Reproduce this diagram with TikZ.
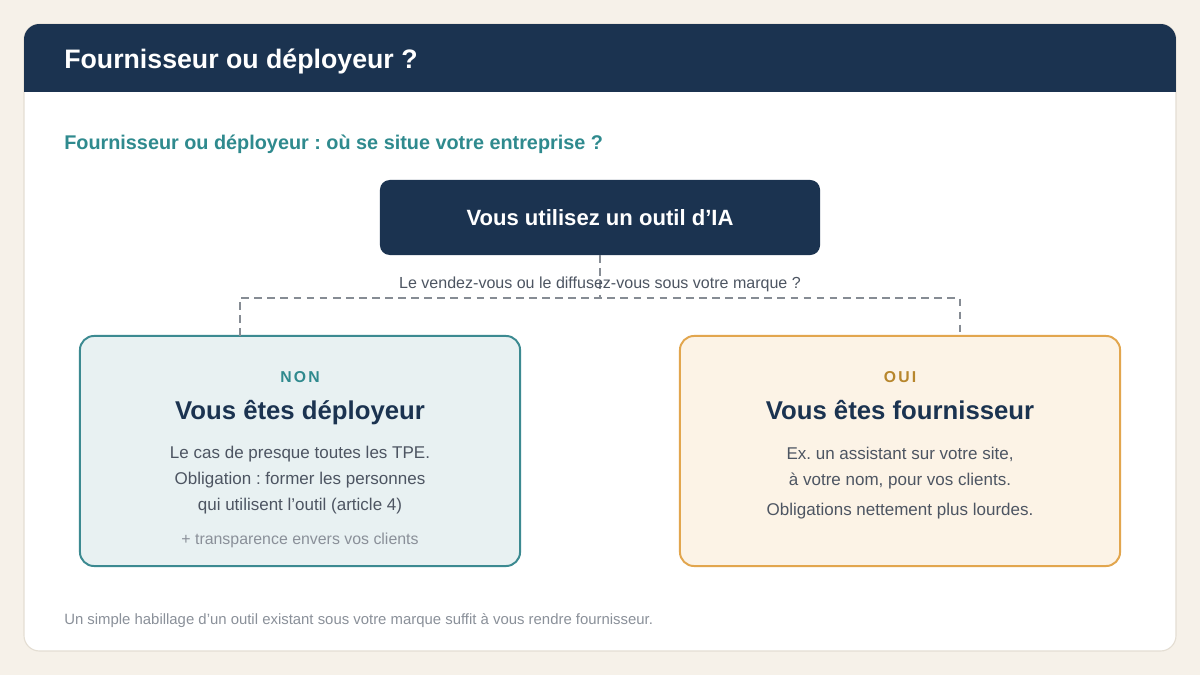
\documentclass[tikz,border=0pt]{standalone}
\usepackage{fontspec}
\setmainfont{Liberation Sans}
\usetikzlibrary{positioning}
\frenchspacing

% colours
\definecolor{pagebg}{HTML}{F6F1E9}
\definecolor{cardline}{HTML}{E4DED3}
\definecolor{navy}{HTML}{1B3350}
\definecolor{tealtxt}{HTML}{2F8A8E}
\definecolor{nonfill}{HTML}{E8F1F2}
\definecolor{nonline}{HTML}{3C8A91}
\definecolor{ouifill}{HTML}{FCF3E6}
\definecolor{ouiline}{HTML}{E2A64E}
\definecolor{ouitxt}{HTML}{B7862C}
\definecolor{bodytxt}{HTML}{4D5562}
\definecolor{softtxt}{HTML}{8A9099}
\definecolor{linkgray}{HTML}{868C94}

\tikzset{
    startbox/.style={fill=navy, rounded corners=7pt, minimum width=11cm, minimum height=1.875cm,
        text=white, font=\fontsize{15.7}{18}\selectfont\bfseries},
    answerbox/.style={rounded corners=10pt, line width=1.4pt, minimum width=11cm, minimum height=5.75cm},
    link/.style={draw=linkgray, line width=1.7pt, dash pattern=on 5.5pt off 3.8pt},
    tag/.style={anchor=base, inner sep=0pt, font=\fontsize{11.2}{13}\selectfont\bfseries\addfontfeature{LetterSpace=14}},
    headline/.style={anchor=base, inner sep=0pt, text=navy, font=\fontsize{18.3}{21}\selectfont\bfseries},
    bodyline/.style={anchor=base, inner sep=0pt, text=bodytxt, font=\fontsize{12.1}{14}\selectfont},
}

\begin{document}
\begin{tikzpicture}[x=0.025cm, y=-0.025cm]
    \useasboundingbox (0,0) rectangle (1200,675);
    \fill[pagebg] (0,0) rectangle (1200,675);

    % card and its header band
    \filldraw[fill=white, draw=cardline, line width=0.8pt, rounded corners=11pt] (24,24) rectangle (1176,651);
    \begin{scope}
        \clip[rounded corners=11pt] (24,24) rectangle (1176,651);
        \fill[navy] (24,24) rectangle (1176,92);
    \end{scope}
    \node[anchor=west, inner sep=0pt, text=white, font=\fontsize{19}{22}\selectfont\bfseries] (title) at (64,61.5) {Fournisseur ou déployeur ?};
    \node[anchor=west, inner sep=0pt, text=tealtxt, font=\fontsize{14.1}{17}\selectfont\bfseries] (subtitle) at (64,144.5) {Fournisseur ou déployeur : où se situe votre entreprise ?};

    % question
    \node[startbox] (start) at (600,217.5) {Vous utilisez un outil d’IA};

    % the two answers
    \node[answerbox, fill=nonfill, draw=nonline] (non) at (300,451) {};
    \node[answerbox, fill=ouifill, draw=ouiline] (oui) at (900,451) {};

    % dashed split
    \coordinate (split) at (600,298);
    \coordinate (nonin) at (240,336);
    \coordinate (ouiin) at (960,336);
    \draw[link] (start.south) -- (split);
    \draw[link] (nonin) |- (split) -| (ouiin);
    \node[anchor=base, inner sep=0pt, text=bodytxt, font=\fontsize{11.4}{13}\selectfont] (ask) at (600,288) {Le vendez-vous ou le diffusez-vous sous votre marque ?};

    % NON side
    \node[tag, text=tealtxt] (nontag) at (300,382) {NON};
    \node[headline] (nonhead) at (300,419) {Vous êtes déployeur};
    \node[bodyline] (non1) at (300,458) {Le cas de presque toutes les TPE.};
    \node[bodyline] (non2) at (300,484) {Obligation : former les personnes};
    \node[bodyline] (non3) at (300,510) {qui utilisent l’outil (article 4)};
    \node[bodyline, text=softtxt, font=\fontsize{11.3}{13}\selectfont] (non4) at (300,544) {+ transparence envers vos clients};

    % OUI side
    \node[tag, text=ouitxt] (ouitag) at (900,382) {OUI};
    \node[headline] (ouihead) at (900,419) {Vous êtes fournisseur};
    \node[bodyline] (oui1) at (900,459) {Ex. un assistant sur votre site,};
    \node[bodyline] (oui2) at (900,485) {à votre nom, pour vos clients.};
    \node[bodyline] (oui3) at (900,515) {Obligations nettement plus lourdes.};

    % footnote
    \node[anchor=west, inner sep=0pt, text=softtxt, font=\fontsize{10.6}{12}\selectfont] (foot) at (64,620.5) {Un simple habillage d’un outil existant sous votre marque suffit à vous rendre fournisseur.};
\end{tikzpicture}
\end{document}
